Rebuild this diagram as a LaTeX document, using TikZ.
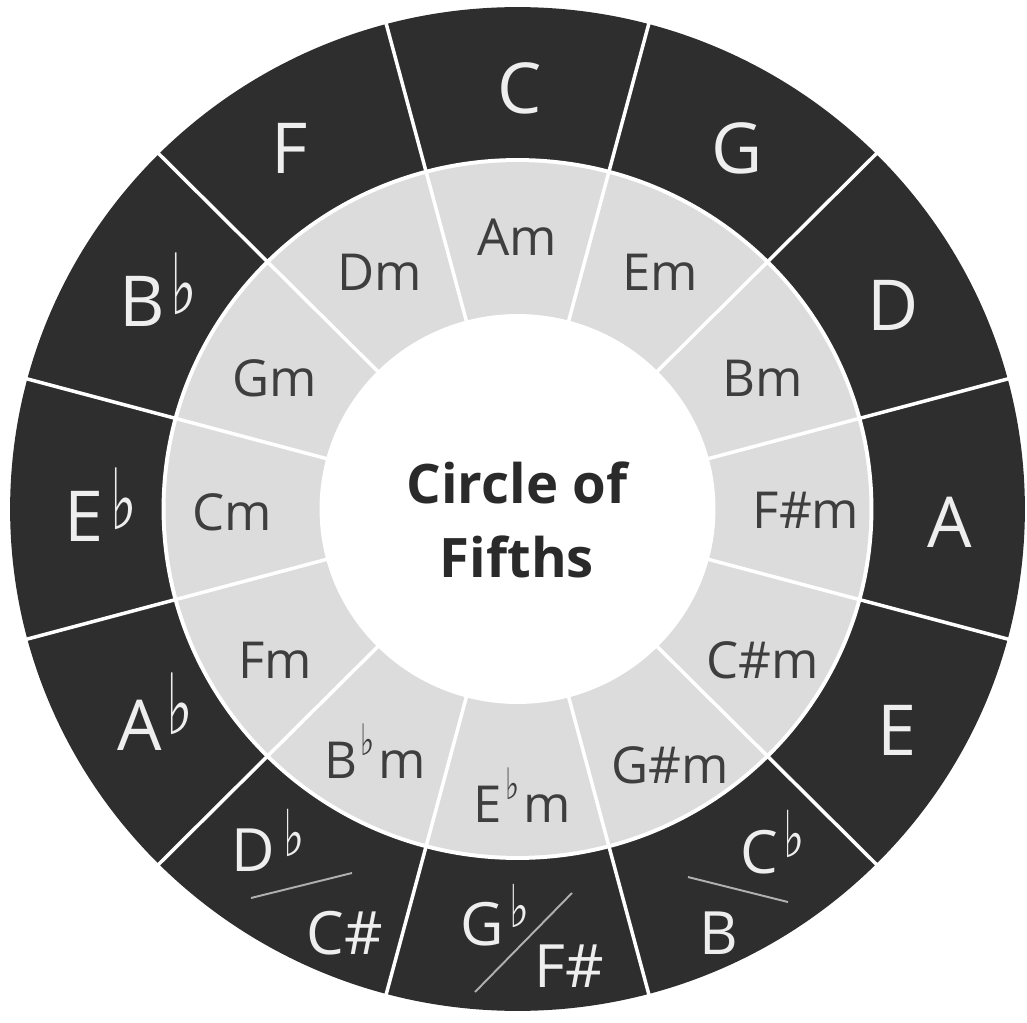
\documentclass[tikz,border=0pt]{standalone}
\usepackage{fontspec}
\setmainfont{Open Sans}
\newfontfamily\flatfont{DejaVu Sans}
\definecolor{darkring}{HTML}{2E2E2E}
\definecolor{lightring}{HTML}{DCDCDC}
\definecolor{outertxt}{HTML}{EEEEEE}
\definecolor{innertxt}{HTML}{3E3E3E}
\definecolor{titletxt}{HTML}{2A2A2A}
\definecolor{slashcol}{HTML}{B0B0B0}
\newcommand\innerflat{\smash{\raisebox{13pt}{\flatfont\fontsize{17}{17}\selectfont\scalebox{1}[1.45]{♭}}}}
\newcommand\flatglyph[2]{\scalebox{#1}[#2]{♭}}
\tikzset{
  outerlbl/.style={text=outertxt, font=\fontsize{40}{42}\selectfont, inner sep=0pt},
  smallouter/.style={text=outertxt, font=\fontsize{34}{36}\selectfont, inner sep=0pt},
  outerflat/.style={text=outertxt, font=\flatfont\fontsize{32}{32}\selectfont, inner sep=0pt},
  innerlbl/.style={text=innertxt, font=\fontsize{29}{31}\selectfont, inner sep=0pt},
  titlelbl/.style={text=titletxt, font=\bfseries\fontsize{31}{42}\selectfont, align=center, inner sep=0pt},
  sepline/.style={white, line width=2pt},
  slashline/.style={slashcol, line width=1.1pt}
}
\begin{document}
\begin{tikzpicture}[x=0.02cm,y=-0.02cm]
\useasboundingbox[fill=white] (0,0) rectangle (1027,1023);
\coordinate (c) at (517.5,509);
% rings
\fill[darkring] (c) ellipse [x radius=10.15cm, y radius=10.04cm];
\fill[white] (c) ellipse [x radius=7.12cm, y radius=7.02cm];
\fill[lightring] (c) ellipse [x radius=7.04cm, y radius=6.94cm];
\fill[white] (c) ellipse [x radius=3.96cm, y radius=3.90cm];
% separators
\foreach \a in {15,45,...,345}
  \draw[sepline, shift={(c)}] (\a:196 and 193) -- (\a:512 and 507);
% title
\node[titlelbl] (title) at (517,520) {Circle of\\Fifths};
% outer labels
\node[outerlbl] (C) at (520,88) {C};
\node[outerlbl] (G) at (737,148) {G};
\node[outerlbl] (D) at (893,305) {D};
\node[outerlbl] (A) at (950,522) {A};
\node[outerlbl] (E) at (897,730) {E};
\node[outerlbl] (F) at (290,148) {F};
\node[outerlbl] (Bb) at (142,301) {B};
\node[outerflat] (Bbf) at (184,284) {\flatglyph{1}{1.5}};
\node[outerlbl] (Eb) at (84,516) {E};
\node[outerflat] (Ebf) at (124,499) {\flatglyph{1}{1.5}};
\node[outerlbl] (Ab) at (140,725) {A};
\node[outerflat] (Abf) at (180,704) {\flatglyph{1}{1.5}};
\node[smallouter] (Db) at (253,850) {D};
\node[outerflat] (Dbf) at (294,833) {\flatglyph{0.8}{1.15}};
\node[smallouter] (Cs) at (345,933) {C\#};
\node[smallouter] (Gb) at (482,924) {G};
\node[outerflat] (Gbf) at (519,906) {\flatglyph{0.75}{1.05}};
\node[smallouter] (Fs) at (569,966) {F\#};
\node[smallouter] (Cb) at (759,852) {C};
\node[outerflat] (Cbf) at (794,834) {\flatglyph{0.8}{1.15}};
\node[smallouter] (B) at (719,933) {B};
% slashes
\coordinate (s1a) at (251,898); \coordinate (s1b) at (352,873);
\coordinate (s2a) at (475,992); \coordinate (s2b) at (572,893);
\coordinate (s3a) at (688,877); \coordinate (s3b) at (788,902);
\draw[slashline] (s1a) -- (s1b);
\draw[slashline] (s2a) -- (s2b);
\draw[slashline] (s3a) -- (s3b);
% inner labels
\node[innerlbl] (Am) at (517,237) {Am};
\node[innerlbl] (Em) at (660,272) {Em};
\node[innerlbl] (Bm) at (763,378) {Bm};
\node[innerlbl] (Fsm) at (806,510) {F\#m};
\node[innerlbl] (Csm) at (763,660) {C\#m};
\node[innerlbl] (Gsm) at (670,765) {G\#m};
\node[innerlbl] (Ebm) at (522,804) {E\hspace{2pt}\innerflat\hspace{2pt}m};
\node[innerlbl] (Bbm) at (375,760) {B\hspace{2pt}\innerflat\hspace{2pt}m};
\node[innerlbl] (Fm) at (275,660) {Fm};
\node[innerlbl] (Cm) at (232,512) {Cm};
\node[innerlbl] (Gm) at (275,378) {Gm};
\node[innerlbl] (Dm) at (380,272) {Dm};
\end{tikzpicture}
\end{document}
